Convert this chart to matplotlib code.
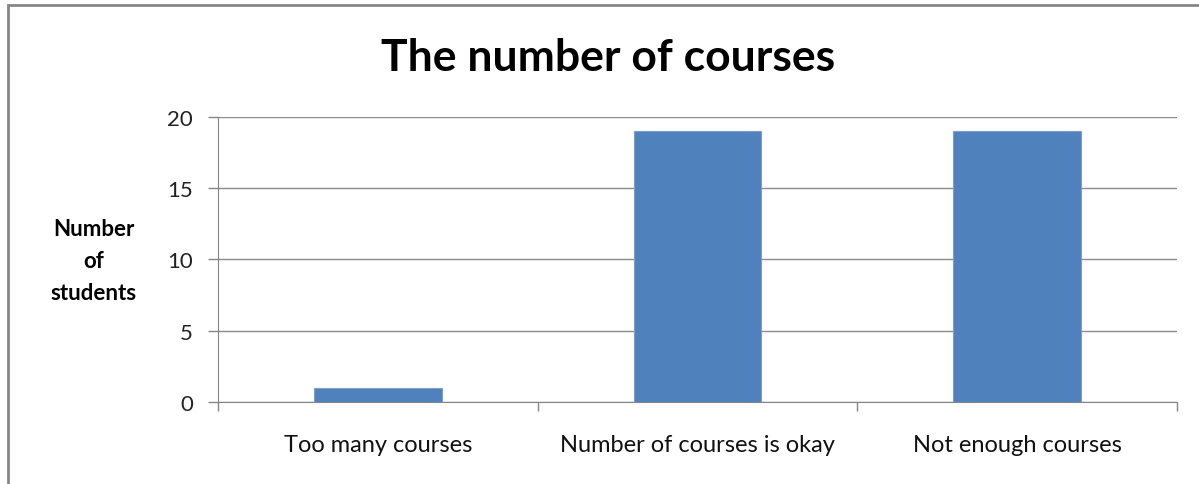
import matplotlib.pyplot as plt
from matplotlib.patches import Rectangle

categories = ["Too many courses", "Number of courses is okay", "Not enough courses"]
students = [1, 19, 19]
y_ticks = [0, 5, 10, 15, 20]

plt.rcParams["font.family"] = ["Lato", "DejaVu Sans"]

fig = plt.figure(figsize=(11.99, 4.85), dpi=100)
ax = fig.add_axes([0.1818, 0.1691, 0.7999, 0.5876])

x = list(range(len(categories)))
ax.bar(x, students, width=0.4, color="#4F81BD", edgecolor="#7BA0CD", linewidth=0.8, zorder=3)

ax.set_xlim(-0.5, len(categories) - 0.5)
ax.set_ylim(0, 20)
ax.set_yticks(y_ticks)
# category boundaries carry the tick marks, labels sit on minor ticks
ax.set_xticks([i - 0.5 for i in range(len(categories) + 1)], minor=False)
ax.set_xticklabels([])
ax.set_xticks(x, minor=True)
ax.set_xticklabels(categories, minor=True, fontsize=17)
ax.tick_params(axis="x", which="minor", length=0, pad=23, labelcolor="#111111")
ax.tick_params(axis="x", which="major", length=6.5, color="#868686", width=1)
ax.tick_params(axis="y", length=7, color="#868686", width=1, labelsize=16, pad=11, labelcolor="#222222")

ax.grid(axis="y", color="#8c8c8c", linewidth=1, zorder=0)
for side in ["top", "right"]:
    ax.spines[side].set_visible(False)
ax.spines["left"].set_color("#868686")
ax.spines["bottom"].set_color("#868686")

fig.text(0.507, 0.88, "The number of courses", ha="center", va="center",
         fontsize=32, fontweight="bold")
fig.text(0.078, 0.46, "Number\nof\nstudents", ha="center", va="center",
         fontsize=16, fontweight="bold", linespacing=1.65)

fig.patches.append(Rectangle((8 / 1199, -0.1), 1.2, 0.1 + (485 - 6) / 485,
                             transform=fig.transFigure, fill=False,
                             edgecolor="#868686", linewidth=2))

plt.savefig("out.png", dpi=100)
